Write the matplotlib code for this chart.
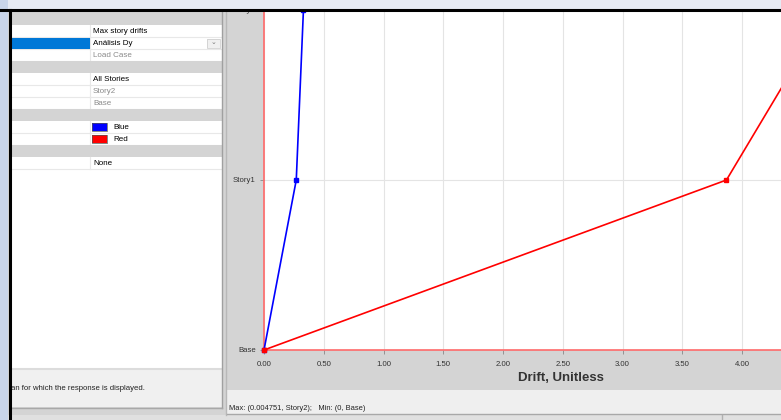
import matplotlib
matplotlib.use('Agg')
import matplotlib.pyplot as plt
from matplotlib.patches import Rectangle

plt.rcParams['font.family'] = ['Liberation Sans', 'DejaVu Sans']

# story drift data
stories = ['Base', 'Story1', 'Story2']
blue_drift = [0.0, 0.27, 0.33]
red_drift = [0.0, 3.87, 4.72]
x_ticks = [0.0, 0.5, 1.0, 1.5, 2.0, 2.5, 3.0, 3.5, 4.0]

# property grid rows on the left: (right column text, text colour, row kind)
grid_rows = [
    ('', 'k', 'header'),
    ('Max story drifts', 'black', 'row'),
    ('Análisis Dy', 'black', 'selected'),
    ('Load Case', '#8a8a8a', 'row'),
    ('', 'k', 'header'),
    ('All Stories', 'black', 'row'),
    ('Story2', '#8a8a8a', 'row'),
    ('Base', '#8a8a8a', 'row'),
    ('', 'k', 'header'),
    ('Blue', 'black', 'blue'),
    ('Red', 'black', 'red'),
    ('', 'k', 'header'),
    ('None', 'black', 'row'),
]

W, H = 781, 420
fig = plt.figure(figsize=(W / 100, H / 100), dpi=100)
fig.patch.set_facecolor('#d4d4d4')

# background axes in pixel coords
bg = fig.add_axes([0, 0, 1, 1])
bg.set_xlim(0, W)
bg.set_ylim(H, 0)
bg.axis('off')

def rect(ax, x, y, w, h, color, z=1, **kw):
    ax.add_patch(Rectangle((x, y), w, h, facecolor=color, edgecolor='none', zorder=z, **kw))

# left property panel
rect(bg, 11, 11, 211, 358, 'white')
y = 11
for i, (text, col, kind) in enumerate(grid_rows):
    row_h = 14 if i == 0 else 12
    if kind == 'header':
        rect(bg, 11, y, 211, row_h, '#d4d4d4', z=2)
    else:
        bg.plot([11, 222], [y + row_h, y + row_h], color='#e8e8e8', lw=0.8, zorder=2)
        bg.plot([90, 90], [y, y + row_h], color='#e8e8e8', lw=0.8, zorder=2)
        if kind == 'selected':
            rect(bg, 11, y + 1, 79, row_h - 1, '#0078d7', z=3)
            rect(bg, 207, y + 2, 13, row_h - 3, '#f0f0f0', z=3)
            bg.add_patch(Rectangle((207, y + 2), 13, row_h - 3, facecolor='none', edgecolor='#c8c8c8', lw=0.5, zorder=4))
            bg.text(213.5, y + row_h / 2, '⌄', fontsize=5, color='#777777', ha='center', va='center', zorder=4)
        tx = 93
        if kind in ('blue', 'red'):
            rect(bg, 92, y + 2, 15, row_h - 4, '#0000ff' if kind == 'blue' else '#ff0000', z=3)
            bg.add_patch(Rectangle((92, y + 2), 15, row_h - 4, facecolor='none', edgecolor='#555555', lw=0.5, zorder=4))
            tx = 113
        bg.text(tx, y + row_h / 2 + 0.5, text, fontsize=5.8, color=col, va='center', ha='left', zorder=4)
    y += row_h

# description box
rect(bg, 11, 369, 211, 38, '#f0f0f0')
bg.plot([11, 222], [369, 369], color='#dcdcdc', lw=1.5)
bg.text(11, 389, 'an for which the response is displayed.', fontsize=5.6, color='#222222', va='center')
bg.plot([222, 222], [11, 408], color='#a0a0a0', lw=1)
bg.plot([226, 226], [11, 415], color='#b8b8b8', lw=1)

# chart panel
rect(bg, 227, 11, W - 227, 379, '#d4d4d4')
rect(bg, 227, 390, W - 227, 24, '#efefef')
bg.plot([227, W], [414, 414], color='#a8a8a8', lw=1)
bg.plot([11, 222], [408, 408], color='#a8a8a8', lw=1)
rect(bg, 0, 415, W, 5, '#e0e0e0')
bg.plot([722, 722], [415, 420], color='#b0b0b0', lw=1)
bg.text(229, 408, 'Max: (0.004751, Story2);   Min: (0, Base)', fontsize=5.4, color='#222222', va='center')

# the plot itself
x0, x1, ytop, ybot = 264, W, 10, 350
ax = fig.add_axes([x0 / W, 1 - ybot / H, (x1 - x0) / W, (ybot - ytop) / H])
ax.set_facecolor('white')
ax.set_xlim(0, (x1 - x0) / 119.5)
ax.set_ylim(0, 2)
story_pos = list(range(len(stories)))
ax.set_xticks(x_ticks)
ax.set_xticklabels([f'{v:.2f}' for v in x_ticks], fontsize=5.6, color='#333333')
ax.set_yticks(story_pos)
ax.set_yticklabels(stories, fontsize=5.6, color='#333333')
ax.tick_params(axis='x', length=3, width=0.6, color='#888888', pad=5)
ax.tick_params(axis='y', length=3, width=0.6, color='#888888', pad=3)
ax.grid(True, color='#e4e4e4', lw=0.8)
ax.set_axisbelow(True)
for s in ['top', 'right']:
    ax.spines[s].set_visible(False)
for s in ['left', 'bottom']:
    ax.spines[s].set_color('#ff6a6a')
    ax.spines[s].set_linewidth(1.2)

ax.plot(blue_drift, story_pos, color='#0000ff', lw=1.2, marker='s', ms=2.8, clip_on=False, zorder=3)
ax.plot(red_drift, story_pos, color='#ff0000', lw=1.2, marker='s', ms=2.5, zorder=4)
ax.plot([red_drift[0]], [0], color='#ff0000', marker='s', ms=3, clip_on=False, zorder=5)
ax.set_xlabel('Drift, Unitless', fontsize=9.5, fontweight='bold', color='#333333')
# the full chart is wider than the visible crop, so the label sits right of centre
ax.xaxis.set_label_coords(0.574, -0.064)

# window frame on top
top = fig.add_axes([0, 0, 1, 1], zorder=10)
top.set_xlim(0, W)
top.set_ylim(H, 0)
top.axis('off')
top.patch.set_alpha(0)
rect(top, 0, 0, W, 9, '#e6eaf3')
rect(top, 0, 0, 8, H, '#c9d5ea')
top.plot([0, W], [10, 10], color='black', lw=2.2)
top.plot([9.5, 9.5], [10, H], color='black', lw=2.2)

fig.savefig('out.png', dpi=100)
